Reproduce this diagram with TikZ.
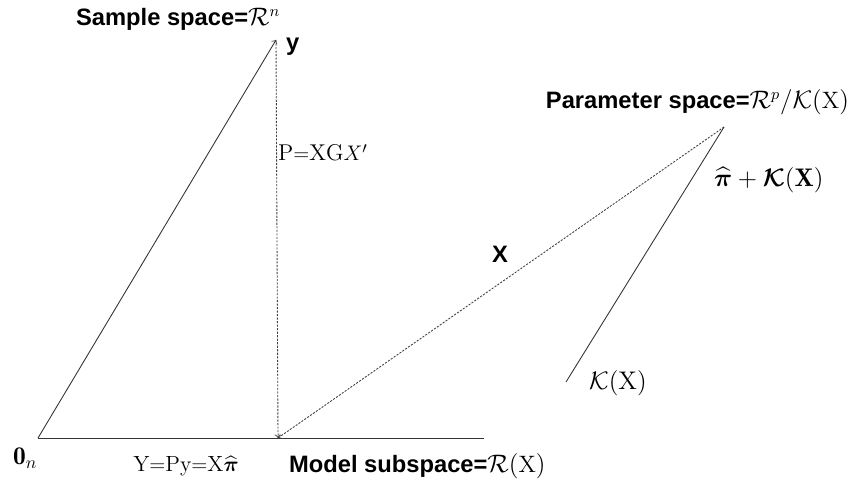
\documentclass[tikz,border=0pt]{standalone}
\usepackage{amsmath,bm}
\usepackage{fontspec}
\setsansfont{Liberation Sans}
\tikzset{
  lbl/.style={font=\sffamily\bfseries\fontsize{13.5}{16}\selectfont,inner sep=1pt},
  mlbl/.style={font=\fontsize{14.5}{17}\selectfont,inner sep=1pt},
  vec/.style={->,draw=black!80,line width=0.5pt},
  proj/.style={->,draw=black!75,line width=0.5pt,dash pattern=on 1.2pt off 0.8pt},
}
\begin{document}
\begin{tikzpicture}[x=0.02cm,y=-0.02cm,>=to]
  \useasboundingbox (0,0) rectangle (857,483);
  % points of the picture
  \coordinate (orig) at (38,438);
  \coordinate (yobs) at (276,40);
  \coordinate (yfit) at (278,438);
  \coordinate (base) at (484,438);
  \coordinate (par) at (724,127);
  \coordinate (kend) at (566,382);
  % lines
  \draw[draw=black!80,line width=0.5pt] (orig) -- (base);
  \draw[vec] (orig) -- (yobs);
  \draw[proj] (yobs) -- (yfit);
  \draw[proj] (par) -- (yfit);
  \draw[draw=black!80,line width=0.5pt] (par) -- (kend);
  % labels
  \node[lbl,anchor=west] (sample) at (74,19) {Sample space=$\mathcal{R}^n$};
  \node[lbl,anchor=west] (ylab) at (284,47) {y};
  \node[mlbl,font=\fontsize{13}{16}\selectfont,anchor=west] (plab) at (276,153) {$\mathrm{P}{=}\mathrm{XG}X'$};
  \node[lbl] (xlab) at (500,254) {X};
  \node[lbl,anchor=east] (param) at (851,102) {Parameter space=$\mathcal{R}^p/\mathcal{K}(\mathrm{X})$};
  \node[mlbl,anchor=west] (coset) at (712,180) {$\widehat{\bm{\pi}}+\bm{\mathcal{K}}(\mathbf{X})$};
  \node[mlbl,anchor=west] (kern) at (587,383) {$\mathcal{K}(\mathrm{X})$};
  \node[mlbl,anchor=west] (zero) at (11,458) {$\mathbf{0}_n$};
  \node[mlbl,font=\fontsize{12.5}{15}\selectfont] (fitted) at (186,466) {$\mathrm{Y}{=}\mathrm{Py}{=}\mathrm{X}\widehat{\bm{\pi}}$};
  \node[lbl,anchor=west] (model) at (287,466) {Model subspace=$\mathcal{R}(\mathrm{X})$};
\end{tikzpicture}
\end{document}
